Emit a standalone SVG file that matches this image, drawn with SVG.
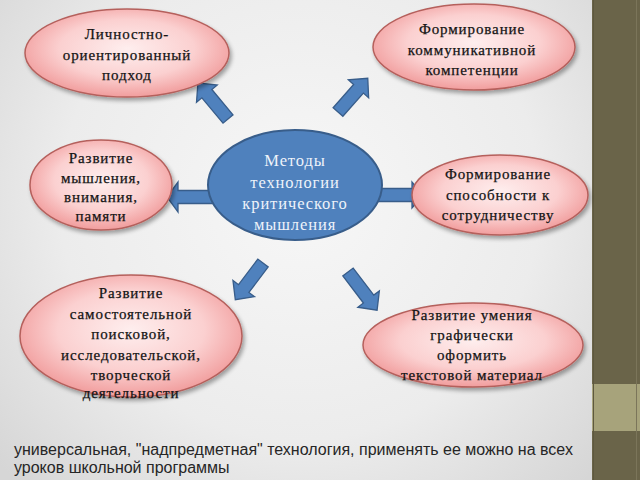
<svg xmlns="http://www.w3.org/2000/svg" width="640" height="480" viewBox="0 0 640 480">
<defs>
<radialGradient id="bg" cx="300" cy="200" r="400" gradientUnits="userSpaceOnUse">
<stop offset="0" stop-color="#f7f7f7"/>
<stop offset="0.6" stop-color="#ececec"/>
<stop offset="1" stop-color="#d6d6d6"/>
</radialGradient>
<radialGradient id="pink" cx="0.5" cy="0.45" r="0.55">
<stop offset="0" stop-color="#feeeee"/>
<stop offset="0.6" stop-color="#fbd0d0"/>
<stop offset="1" stop-color="#f19d9d"/>
</radialGradient>
<filter id="sh" x="-10%" y="-10%" width="125%" height="130%">
<feGaussianBlur in="SourceAlpha" stdDeviation="2"/>
<feOffset dx="2" dy="3" result="b"/>
<feComponentTransfer><feFuncA type="linear" slope="0.35"/></feComponentTransfer>
<feMerge><feMergeNode/><feMergeNode in="SourceGraphic"/></feMerge>
</filter>
<style>
.node{fill:url(#pink);stroke:#b5605c;stroke-width:1.5;filter:url(#sh)}
.nt{font-family:"Liberation Serif","DejaVu Serif",serif;font-size:15px;fill:#141414;text-anchor:middle;letter-spacing:0.9px;stroke:#141414;stroke-width:0.25px}
.ct{font-family:"Liberation Serif","DejaVu Serif",serif;font-size:16.5px;fill:#eef3fa;text-anchor:middle;letter-spacing:0.9px}
.arr{fill:#4f81bd;stroke:#385d8a;stroke-width:1.3;stroke-linejoin:miter}
.foot{font-family:"Liberation Sans",Arial,sans-serif;font-size:16px;fill:#262626}
</style>
</defs>
<rect x="0" y="0" width="640" height="480" fill="url(#bg)"/>
<g id="sidebar">
<rect x="592" y="0" width="48" height="480" fill="#6a6449"/>
<rect x="592" y="384" width="48" height="47" fill="#a7a37b"/>
<line x1="593.5" y1="0" x2="593.5" y2="480" stroke="#5e583f" stroke-width="1"/>
<line x1="636.5" y1="0" x2="636.5" y2="480" stroke="#7b755a" stroke-width="1"/>
</g>
<g id="connectors">
<path class="arr" transform="translate(228,119) rotate(-129.8)" d="M0,-6.5 L33,-6.5 L33,-13.5 L47,0 L33,13.5 L33,6.5 L0,6.5 Z"/>
<path class="arr" transform="translate(338,112) rotate(-48.6)" d="M0,-6.5 L31,-6.5 L31,-13.5 L45,0 L31,13.5 L31,6.5 L0,6.5 Z"/>
<path class="arr" transform="translate(215,197) rotate(180)" d="M0,-6.5 L37,-6.5 L37,-15 L48,0 L37,15 L37,6.5 L0,6.5 Z"/>
<path class="arr" transform="translate(375,195)" d="M0,-6.5 L37,-6.5 L37,-13 L48,0 L37,13 L37,6.5 L0,6.5 Z"/>
<path class="arr" transform="translate(263,263) rotate(127)" d="M0,-6.5 L32,-6.5 L32,-13.5 L46,0 L32,13.5 L32,6.5 L0,6.5 Z"/>
<path class="arr" transform="translate(348,272) rotate(52.7)" d="M0,-6.5 L34,-6.5 L34,-13.5 L48,0 L34,13.5 L34,6.5 L0,6.5 Z"/>
</g>
<g id="center">
<ellipse cx="295" cy="185" rx="87" ry="55" fill="#4f81bd" stroke="#385d8a" stroke-width="2"/>
<text class="ct" x="295" y="166">Методы</text>
<text class="ct" x="295" y="188">технологии</text>
<text class="ct" x="295" y="209">критического</text>
<text class="ct" x="295" y="230">мышления</text>
</g>
<g id="n1">
<ellipse class="node" cx="127" cy="53" rx="102" ry="44"/>
<text class="nt" x="127" y="39">Личностно-</text>
<text class="nt" x="127" y="60">ориентированный</text>
<text class="nt" x="127" y="80">подход</text>
</g>
<g id="n2">
<ellipse class="node" cx="474" cy="47" rx="101" ry="43"/>
<text class="nt" x="472" y="34">Формирование</text>
<text class="nt" x="472" y="55">коммуникативной</text>
<text class="nt" x="472" y="75">компетенции</text>
</g>
<g id="n3">
<ellipse class="node" cx="101" cy="185" rx="71" ry="45"/>
<text class="nt" x="101" y="163">Развитие</text>
<text class="nt" x="101" y="183">мышления,</text>
<text class="nt" x="101" y="202">внимания,</text>
<text class="nt" x="101" y="221">памяти</text>
</g>
<g id="n4">
<ellipse class="node" cx="500" cy="195" rx="88" ry="40"/>
<text class="nt" x="498" y="179">Формирование</text>
<text class="nt" x="498" y="200">способности к</text>
<text class="nt" x="498" y="220">сотрудничеству</text>
</g>
<g id="n5">
<ellipse class="node" cx="131" cy="336" rx="111" ry="61"/>
<text class="nt" x="131" y="298">Развитие</text>
<text class="nt" x="131" y="319">самостоятельной</text>
<text class="nt" x="131" y="339">поисковой,</text>
<text class="nt" x="131" y="360">исследовательской,</text>
<text class="nt" x="131" y="380">творческой</text>
<text class="nt" x="131" y="398">деятельности</text>
</g>
<g id="n6">
<ellipse class="node" cx="473" cy="345" rx="110" ry="42"/>
<text class="nt" x="472" y="320">Развитие умения</text>
<text class="nt" x="472" y="340">графически</text>
<text class="nt" x="472" y="360">оформить</text>
<text class="nt" x="472" y="380">текстовой материал</text>
</g>
<g id="footer">
<text class="foot" x="14" y="455">универсальная, "надпредметная" технология, применять ее можно на всех</text>
<text class="foot" x="14" y="473">уроков школьной программы</text>
</g>
</svg>
